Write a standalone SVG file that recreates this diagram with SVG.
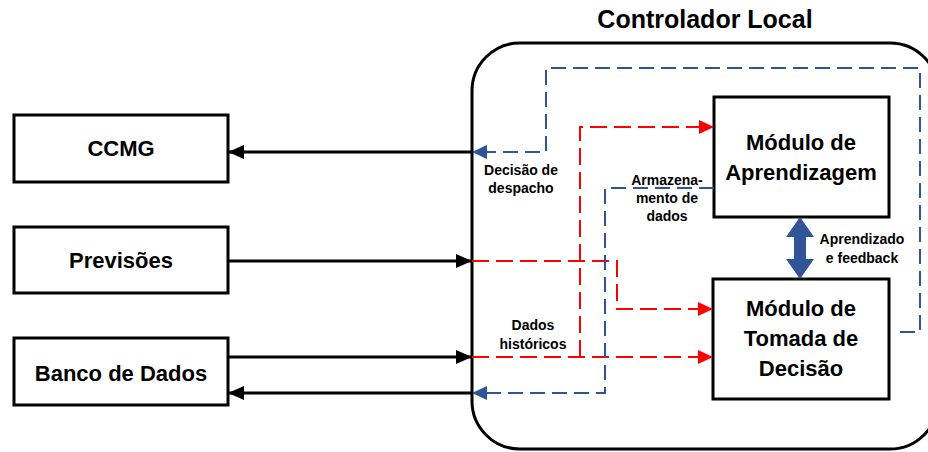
<svg xmlns="http://www.w3.org/2000/svg" width="928" height="452" viewBox="0 0 928 452">
  <defs>
    <marker id="ah-black" markerUnits="userSpaceOnUse" markerWidth="16" markerHeight="14" refX="15" refY="7" orient="auto">
      <path d="M0,0 L16,7 L0,14 Z" fill="#000"/>
    </marker>
    <marker id="ah-red" markerUnits="userSpaceOnUse" markerWidth="15" markerHeight="14" refX="14" refY="7" orient="auto">
      <path d="M0,0 L15,7 L0,14 Z" fill="#ff0000"/>
    </marker>
    <marker id="ah-blue" markerUnits="userSpaceOnUse" markerWidth="15" markerHeight="14" refX="14" refY="7" orient="auto">
      <path d="M0,0 L15,7 L0,14 Z" fill="#2f5597"/>
    </marker>
    <style>
      .box { fill: #fff; stroke: #000; stroke-width: 3; }
      .frame { fill: #fff; stroke: #000; stroke-width: 3; }
      .big { font-family: "Liberation Sans", Arial, sans-serif; font-weight: bold; font-size: 22px; fill: #000; text-anchor: middle; }
      .title { font-family: "Liberation Sans", Arial, sans-serif; font-weight: bold; font-size: 25px; fill: #000; text-anchor: middle; }
      .small { font-family: "Liberation Sans", Arial, sans-serif; font-weight: bold; font-size: 14px; fill: #000; text-anchor: middle; }
      .solid { fill: none; stroke: #000; stroke-width: 3; }
      .red { fill: none; stroke: #ff0000; stroke-width: 2; stroke-dasharray: 17 7; }
      .blue { fill: none; stroke: #2f5597; stroke-width: 2; stroke-dasharray: 15 7; }
    </style>
  </defs>

  <!-- Local controller frame -->
  <g id="controlador-local">
    <rect class="frame" x="472" y="43" width="466" height="406" rx="48" ry="48"/>
    <text class="title" x="705" y="28">Controlador Local</text>
  </g>

  <!-- External entities -->
  <g id="ccmg">
    <rect class="box" x="14" y="115" width="214" height="67"/>
    <text class="big" x="121" y="156">CCMG</text>
  </g>
  <g id="previsoes">
    <rect class="box" x="14" y="227" width="214" height="66"/>
    <text class="big" x="121" y="268">Previsões</text>
  </g>
  <g id="banco-de-dados">
    <rect class="box" x="14" y="338" width="214" height="67"/>
    <text class="big" x="121" y="381">Banco de Dados</text>
  </g>

  <!-- Internal modules -->
  <g id="modulo-aprendizagem">
    <rect class="box" x="714" y="97" width="175" height="120"/>
    <text class="big" x="801" y="150">Módulo de</text>
    <text class="big" x="801" y="180">Aprendizagem</text>
  </g>
  <g id="modulo-tomada-decisao">
    <rect class="box" x="713" y="279" width="176" height="120"/>
    <text class="big" x="801" y="316">Módulo de</text>
    <text class="big" x="801" y="346">Tomada de</text>
    <text class="big" x="801" y="376">Decisão</text>
  </g>

  <!-- Connectors -->
  <g id="connectors">
    <!-- solid links with external entities -->
    <line class="solid" x1="472" y1="152" x2="229" y2="152" marker-end="url(#ah-black)"/>
    <line class="solid" x1="228" y1="261" x2="471" y2="261" marker-end="url(#ah-black)"/>
    <line class="solid" x1="228" y1="357" x2="471" y2="357" marker-end="url(#ah-black)"/>
    <line class="solid" x1="472" y1="393" x2="229" y2="393" marker-end="url(#ah-black)"/>

    <!-- data flows in (red) -->
    <path class="red" d="M472,261 H617 V309 H712" marker-end="url(#ah-red)"/>
    <path class="red" d="M472,357 H712" marker-end="url(#ah-red)"/>
    <path class="red" d="M580,357 V127 H713" marker-end="url(#ah-red)"/>

    <!-- flows out (blue) -->
    <path class="blue" d="M900,332 H920 V68 H546 V152 H473" marker-end="url(#ah-blue)"/>
    <path class="blue" d="M714,188 H605 V393 H473" marker-end="url(#ah-blue)"/>

    <!-- bidirectional link between modules -->
    <polygon fill="#2f5597" points="800,217 814,237 806,237 806,259 814,259 800,279 786,259 794,259 794,237 786,237"/>

    <!-- connector labels -->
    <text class="small" x="521" y="175">Decisão de</text>
    <text class="small" x="521" y="193">despacho</text>
    <text class="small" x="667" y="185">Armazena-</text>
    <text class="small" x="667" y="203">mento de</text>
    <text class="small" x="667" y="221">dados</text>
    <text class="small" x="533" y="330">Dados</text>
    <text class="small" x="533" y="349">históricos</text>
    <text class="small" x="862" y="244">Aprendizado</text>
    <text class="small" x="862" y="263">e feedback</text>
  </g>
</svg>
